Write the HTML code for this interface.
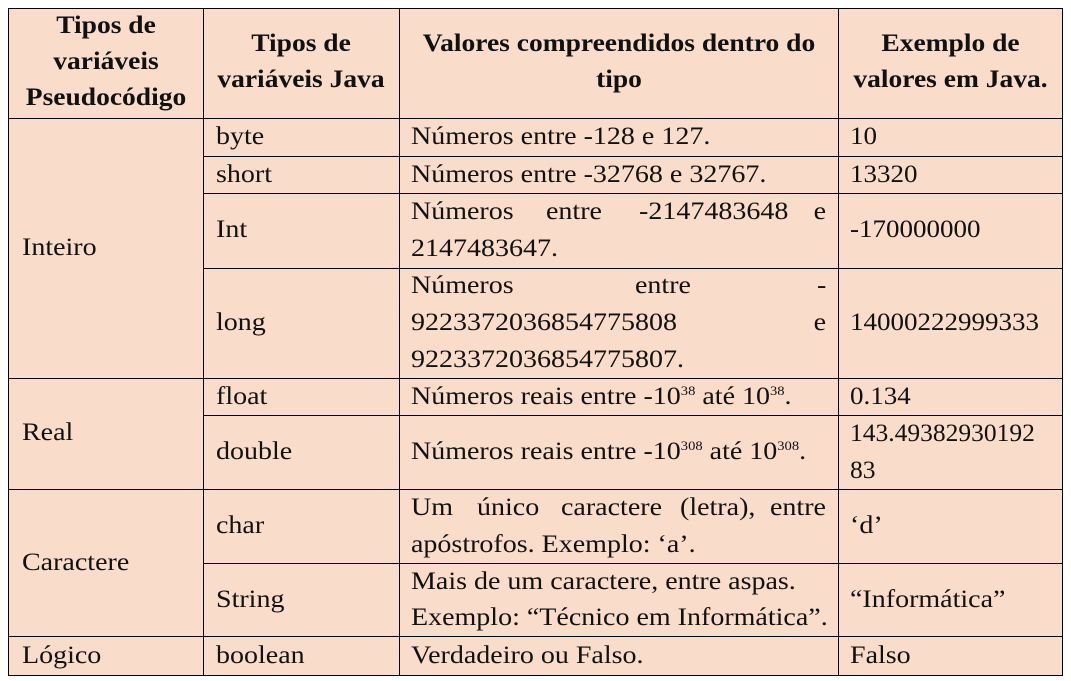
<!DOCTYPE html>
<html><head><meta charset="utf-8"><style>
body{margin:0;width:1071px;height:681px;background:#fff;position:relative;overflow:hidden;font-family:"Liberation Serif",serif;font-size:25px;color:#111}
.bg{position:absolute;left:8px;top:8px;width:1054px;height:667px;background:#fadcca}
.h{position:absolute;background:#000;height:1.3px}
.v{position:absolute;background:#000;width:1.3px}
.t{position:absolute;white-space:nowrap;line-height:37px;transform:scaleX(1.12);transform-origin:0 0}
.n{transform:scaleX(1.08)}
.b{font-weight:bold;text-align:center;line-height:36px;transform:scaleX(1.1);transform-origin:50% 0}
.j{position:absolute;display:flex;justify-content:space-between;line-height:37px}
.j span{display:inline-block;transform:scaleX(1.12);transform-origin:0 0}
.j span:last-child{transform-origin:100% 0}
sup{font-size:13px;vertical-align:9px;line-height:0}
</style></head><body>
<div class="bg"></div>
<div class="h" style="left:8px;top:8px;width:1055px"></div>
<div class="h" style="left:8px;top:118px;width:1055px"></div>
<div class="h" style="left:203px;top:156px;width:860px"></div>
<div class="h" style="left:203px;top:193px;width:860px"></div>
<div class="h" style="left:203px;top:268px;width:860px"></div>
<div class="h" style="left:8px;top:378px;width:1055px"></div>
<div class="h" style="left:203px;top:415px;width:860px"></div>
<div class="h" style="left:8px;top:489px;width:1055px"></div>
<div class="h" style="left:203px;top:563px;width:860px"></div>
<div class="h" style="left:8px;top:636px;width:1055px"></div>
<div class="h" style="left:8px;top:675px;width:1055px"></div>
<div class="v" style="left:8px;top:8px;height:668px"></div>
<div class="v" style="left:203px;top:8px;height:668px"></div>
<div class="v" style="left:399px;top:8px;height:668px"></div>
<div class="v" style="left:838px;top:8px;height:668px"></div>
<div class="v" style="left:1062px;top:8px;height:668px"></div>

<div class="t b" style="left:8px;width:196px;top:8px">Tipos de<br>variáveis<br>Pseudocódigo</div>
<div class="t b" style="left:203px;width:196px;top:26px">Tipos de<br>variáveis Java</div>
<div class="t b" style="left:399px;width:440px;top:26px">Valores compreendidos dentro do<br>tipo</div>
<div class="t b" style="left:838px;width:225px;top:26px">Exemplo de<br>valores em Java.</div>

<div class="t" style="left:22px;top:229px">Inteiro</div>
<div class="t" style="left:22px;top:414px">Real</div>
<div class="t" style="left:22px;top:544px">Caractere</div>
<div class="t" style="left:22px;top:637px">Lógico</div>

<div class="t" style="left:216px;top:118px">byte</div>
<div class="t" style="left:216px;top:156px">short</div>
<div class="t" style="left:216px;top:211px">Int</div>
<div class="t" style="left:216px;top:304px">long</div>
<div class="t" style="left:216px;top:378px">float</div>
<div class="t" style="left:216px;top:433px">double</div>
<div class="t" style="left:216px;top:507px">char</div>
<div class="t" style="left:216px;top:581px">String</div>
<div class="t" style="left:216px;top:637px">boolean</div>

<div class="t" style="left:411px;top:118px">Números entre -128 e 127.</div>
<div class="t" style="left:411px;top:156px">Números entre -32768 e 32767.</div>
<div class="j" style="left:411px;width:415px;top:193px"><span>Números</span><span>entre</span><span>-2147483648</span><span>e</span></div>
<div class="t" style="left:411px;top:230px">2147483647.</div>
<div class="j" style="left:411px;width:415px;top:267px"><span>Números</span><span>entre</span><span>-</span></div>
<div class="j" style="left:411px;width:415px;top:304px"><span>9223372036854775808</span><span>e</span></div>
<div class="t" style="left:411px;top:341px">9223372036854775807.</div>
<div class="t" style="left:411px;top:378px">Números reais entre -10<sup>38</sup> até 10<sup>38</sup>.</div>
<div class="t" style="left:411px;top:433px">Números reais entre -10<sup>308</sup> até 10<sup>308</sup>.</div>
<div class="j" style="left:411px;width:415px;top:489px"><span>Um</span><span>único</span><span>caractere</span><span>(letra),</span><span>entre</span></div>
<div class="t" style="left:411px;top:526px">apóstrofos. Exemplo: ‘a’.</div>
<div class="t" style="left:411px;top:563px">Mais de um caractere, entre aspas.</div>
<div class="t" style="left:411px;top:599px">Exemplo: “Técnico em Informática”.</div>
<div class="t" style="left:411px;top:637px">Verdadeiro ou Falso.</div>

<div class="t n" style="left:850px;top:118px">10</div>
<div class="t n" style="left:850px;top:156px">13320</div>
<div class="t n" style="left:850px;top:211px">-170000000</div>
<div class="t n" style="left:850px;top:304px">14000222999333</div>
<div class="t n" style="left:850px;top:378px">0.134</div>
<div class="t n" style="left:850px;top:415px;transform:scaleX(1.02)">143.49382930192<br>83</div>
<div class="t" style="left:850px;top:507px">‘d’</div>
<div class="t" style="left:850px;top:581px">“Informática”</div>
<div class="t" style="left:850px;top:637px">Falso</div>
</body></html>
